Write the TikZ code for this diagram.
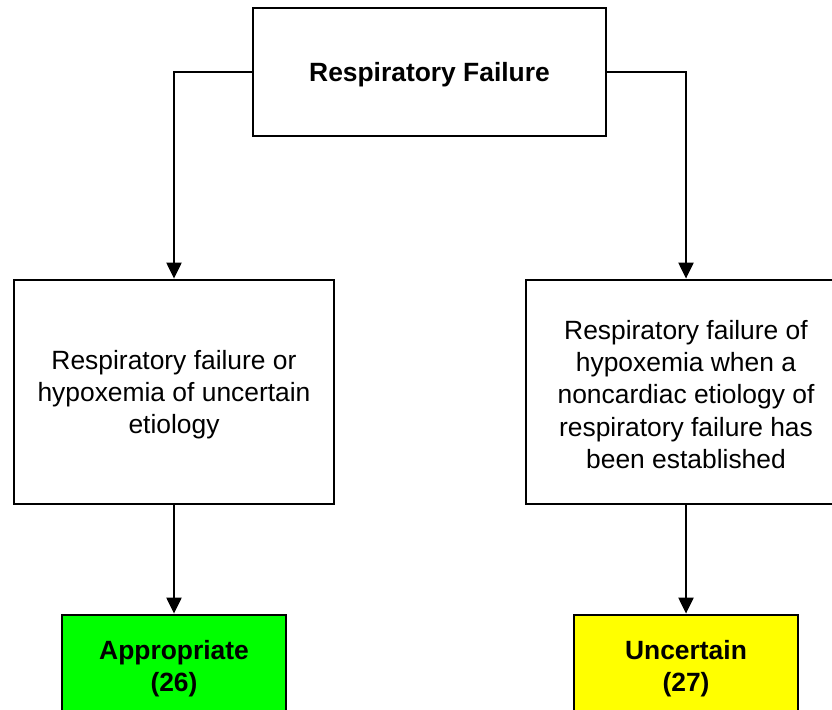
\documentclass[tikz,border=0pt]{standalone}
\usepackage{fontspec}
\setmainfont{Liberation Sans}
\usetikzlibrary{arrows.meta}
\begin{document}
\begin{tikzpicture}[x=1pt,y=-1pt,
  box/.style={draw=black, line width=2.8pt, fill=white, inner sep=0pt},
  txt/.style={inner sep=0pt, align=center, font=\fontsize{26.4}{32.2}\selectfont},
  boldtxt/.style={txt, font=\fontsize{26.4}{32.2}\selectfont\bfseries},
  link/.style={line width=2.2pt, -{Triangle[length=16pt,width=15pt]}}]
  \useasboundingbox (0,0) rectangle (832,709);
  \clip (0,0) rectangle (832,709);

  % boxes of the decision tree
  \node[box, minimum width=353pt, minimum height=128pt] (top) at (429.5,72) {};
  \node[box, minimum width=320pt, minimum height=224pt] (left) at (174,392) {};
  \node[box, minimum width=320pt, minimum height=224pt] (right) at (686,392) {};
  \node[box, fill={rgb,255:red,0;green,255;blue,0}, minimum width=224pt, minimum height=102pt]
        (appr) at (174,666) {};
  \node[box, fill={rgb,255:red,255;green,255;blue,0}, minimum width=224pt, minimum height=102pt]
        (unc) at (686,666) {};

  % box texts
  \node[boldtxt] (toptext) at ([yshift=-2.5pt]top.center) {Respiratory Failure};
  \node[txt] (lefttext) at ([yshift=-2.5pt]left.center)
        {Respiratory failure or\\hypoxemia of uncertain\\etiology};
  \node[txt] (righttext) at ([yshift=-2.5pt]right.center)
        {Respiratory failure of\\hypoxemia when a\\noncardiac etiology of\\respiratory failure has\\been established};
  \node[boldtxt] (apprtext) at ([yshift=-2.5pt]appr.center) {Appropriate\\(26)};
  \node[boldtxt] (unctext) at ([yshift=-2.5pt]unc.center) {Uncertain\\(27)};

  % connectors
  \draw[link] (top.west) -| (left.north);
  \draw[link] (top.east) -| (right.north);
  \draw[link] (left.south) -- (appr.north);
  \draw[link] (right.south) -- (unc.north);
\end{tikzpicture}
\end{document}
